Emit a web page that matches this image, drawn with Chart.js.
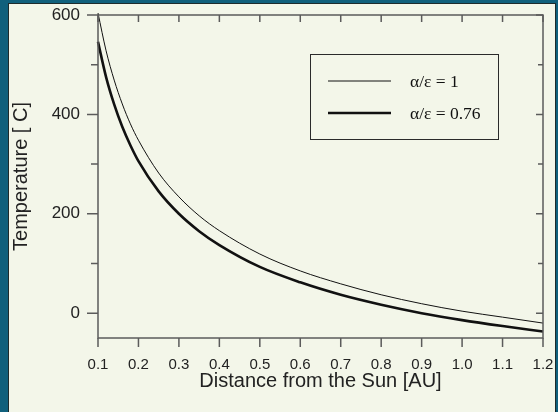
<!DOCTYPE html>
<html>
<head>
<meta charset="utf-8">
<script src="https://cdn.jsdelivr.net/npm/chart.js@4/dist/chart.umd.min.js"></script>
<style>
  html, body { margin: 0; padding: 0; background: #10607c; }
  #wrap { position: relative; width: 558px; height: 412px; overflow: hidden; }
  #panel { position: absolute; left: 8px; top: 3px; width: 548px; height: 409px;
           background: #f3f6e9; border-left: 1px solid #1d2b2c; border-top: 1px solid #1d2b2c;
           border-right: 1px solid #1d2b2c; box-sizing: border-box; }
  #c { position: absolute; left: 0; top: 0; }
</style>
</head>
<body>
<div id="wrap">
  <div id="panel"></div>
  <canvas id="c" width="558" height="412"></canvas>
</div>
<script>
// distance from the sun [AU]
var distance = [0.10, 0.12, 0.14, 0.16, 0.18, 0.20, 0.25, 0.30, 0.35, 0.40, 0.50, 0.60, 0.70, 0.80, 0.90, 1.00, 1.10, 1.20];
// temperature [C], alpha/eps = 1
var tempRatio1 = [604, 528, 469, 421, 381, 348, 282, 234, 196, 166, 119, 85, 59, 37, 19, 4, -8, -20];
// temperature [C], alpha/eps = 0.76
var tempRatio076 = [546, 475, 420, 375, 338, 306, 245, 200, 165, 137, 93, 62, 37, 17, 0, -14, -26, -37];

var seriesLabels = ['\u03b1/\u03b5 = 1', '\u03b1/\u03b5 = 0.76'];

function pts(ys) {
    return distance.map(function (x, i) { return { x: x, y: ys[i] }; });
}

var axisColor = '#5b5b5b';
var sans = '"Liberation Sans", Arial, sans-serif';

// frame, inside/outside tick marks and the boxed legend
var decor = {
    id: 'decor',
    afterDraw: function (chart) {
        var ctx = chart.ctx, a = chart.chartArea;
        var xs = chart.scales.x, ys = chart.scales.y;
        ctx.save();
        ctx.strokeStyle = axisColor;
        ctx.lineWidth = 1.5;
        ctx.strokeRect(a.left, a.top, a.right - a.left, a.bottom - a.top);

        ctx.beginPath();
        xs.ticks.forEach(function (t) {
            var px = xs.getPixelForValue(t.value);
            ctx.moveTo(px, a.bottom); ctx.lineTo(px, a.bottom + 9);
            ctx.moveTo(px, a.top); ctx.lineTo(px, a.top + 7);
        });
        ys.ticks.forEach(function (t) {
            var v = Math.round(t.value);
            if (v % 100 !== 0) return;
            var py = ys.getPixelForValue(v);
            var major = v % 200 === 0;
            ctx.moveTo(a.left - (major ? 11 : 7), py); ctx.lineTo(a.left, py);
            ctx.moveTo(a.right, py); ctx.lineTo(a.right - (major ? 7 : 5), py);
        });
        ctx.stroke();

        // legend
        ctx.strokeStyle = '#2a2a2a';
        ctx.lineWidth = 1;
        ctx.strokeRect(310.5, 54.5, 188, 85);
        var rows = [81, 113];
        ctx.font = '17.5px "Liberation Serif", "DejaVu Serif", serif';
        ctx.textBaseline = 'middle';
        ctx.fillStyle = '#111';
        chart.data.datasets.forEach(function (ds, i) {
            ctx.strokeStyle = ds.borderColor;
            ctx.lineWidth = ds.borderWidth;
            ctx.beginPath();
            ctx.moveTo(328, rows[i]); ctx.lineTo(391, rows[i]);
            ctx.stroke();
            ctx.fillText(ds.label, 410, rows[i] + 1);
        });
        ctx.restore();
    }
};

new Chart(document.getElementById('c'), {
    type: 'line',
    data: {
        datasets: [{
            label: seriesLabels[0],
            data: pts(tempRatio1),
            borderColor: '#111',
            borderWidth: 1,
            pointRadius: 0,
            cubicInterpolationMode: 'monotone',
            clip: false
        }, {
            label: seriesLabels[1],
            data: pts(tempRatio076),
            borderColor: '#111',
            borderWidth: 2.6,
            pointRadius: 0,
            cubicInterpolationMode: 'monotone',
            clip: false
        }]
    },
    plugins: [decor],
    options: {
        responsive: false,
        animation: false,
        layout: { padding: { top: 15, right: 15, left: 0, bottom: 0 } },
        plugins: {
            legend: { display: false },
            tooltip: { enabled: false }
        },
        scales: {
            x: {
                type: 'linear',
                min: 0.1,
                max: 1.2,
                grid: { display: false },
                border: { display: false },
                afterFit: function (s) { s.height = 74; s.paddingLeft = 0; s.paddingRight = 0; },
                ticks: {
                    stepSize: 0.1,
                    padding: 10,
                    color: '#222',
                    font: { family: sans, size: 15 },
                    callback: function (v) { return Number(v).toFixed(1); }
                },
                title: {
                    display: true,
                    text: 'Distance from the Sun [AU]',
                    color: '#222',
                    font: { family: sans, size: 20 },
                    padding: { top: 0, bottom: 19 }
                }
            },
            y: {
                min: -50,
                max: 600,
                grid: { display: false },
                border: { display: false },
                afterFit: function (s) { s.width = 98; s.paddingTop = 0; s.paddingBottom = 0; },
                ticks: {
                    stepSize: 100,
                    padding: 10,
                    color: '#222',
                    font: { family: sans, size: 17 },
                    callback: function (v) { return Math.round(v) % 200 === 0 ? v : ''; }
                },
                title: {
                    display: true,
                    text: 'Temperature [ C]',
                    color: '#222',
                    font: { family: sans, size: 20 },
                    padding: { top: 9, bottom: 0 }
                }
            }
        }
    }
});
</script>
</body>
</html>
